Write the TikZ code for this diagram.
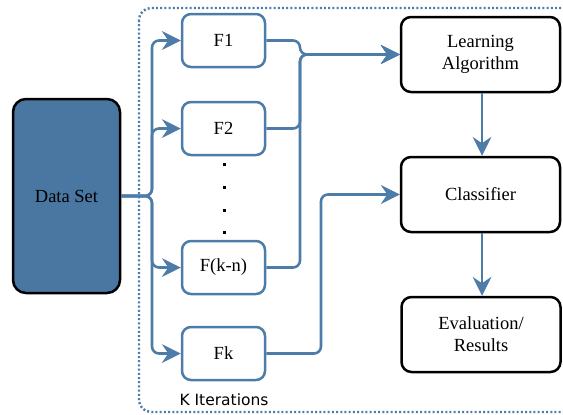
\documentclass[tikz,border=0pt]{standalone}
\usepackage{fontspec}
\setmainfont{Liberation Serif}
\newfontfamily\labelsans{DejaVu Sans}
\usetikzlibrary{arrows.meta,positioning}

\definecolor{flowblue}{HTML}{4D7CA8}
\definecolor{datafill}{HTML}{4A77A2}

\tikzset{
  flowtip/.tip={Stealth[length=19pt, width=19pt, inset=6.5pt, line width=0pt]},
  every node/.style={font=\fontsize{18.5}{22}\selectfont},
  fbox/.style={draw=flowblue, line width=2.5pt, rounded corners=9pt, fill=white,
               minimum width=83pt, minimum height=53pt, inner sep=0pt},
  bbox/.style={draw=black, line width=2.5pt, rounded corners=10pt, fill=white,
               minimum width=159pt, minimum height=75pt, inner sep=0pt, align=center},
  dbox/.style={draw=black, line width=2.5pt, rounded corners=13pt, fill=datafill,
               minimum width=107pt, minimum height=194pt, inner sep=0pt},
  flow/.style={draw=flowblue, line width=2.6pt, rounded corners=7pt, arrows={-flowtip}},
  frame/.style={draw=flowblue, line width=2.4pt, dash pattern=on 2pt off 2.2pt,
                rounded corners=12pt}
}

\begin{document}
\begin{tikzpicture}[x=1pt, y=-1pt]
  \useasboundingbox (0,0) rectangle (563,415);

  % dotted frame of the K iterations, running off the right edge
  \begin{scope}
    \clip (0,0) rectangle (563,415);
    \draw[frame] (139,8) rectangle (590,412);
  \end{scope}

  % boxes
  \node[dbox] (ds) at (66.5,196) {Data Set};

  \node[fbox] (f1)  at (223.5,40.5)  {F1};
  \node[fbox] (f2)  at (223.5,128.5) {F2};
  \node[fbox] (fkn) at (223.5,267.5) {F(k-n)};
  \node[fbox] (fk)  at (223.5,353.5) {Fk};

  \node[bbox] (la) at (480.5,54.5)  {Learning\\Algorithm};
  \node[bbox] (cl) at (480.5,194.5) {Classifier};
  \node[bbox] (ev) at (481,334.5)   {Evaluation/\\Results};

  % vertical ellipsis between F2 and F(k-n)
  \foreach \y in {164,187,210,232}
    \fill (222.5,\y-1.5) rectangle ++(3,3);

  \node[font=\labelsans\fontsize{15.5}{18}\selectfont] (kit) at (224,400) {K Iterations};

  % routing points
  \coordinate (split)  at (152,196);
  \coordinate (mergeA) at (300,54.5);
  \coordinate (mergeC) at (321,194.5);

  % data set fanned out to the feature sets
  \draw[flow] (ds.east) -- (split) |- (f1.west);
  \draw[flow] (ds.east) -- (split) |- (f2.west);
  \draw[flow] (ds.east) -- (split) |- (fkn.west);
  \draw[flow] (ds.east) -- (split) |- (fk.west);

  % training sets into the learning algorithm
  \draw[flow] (f1.east)  -| (mergeA) -- (la.west);
  \draw[flow] (f2.east)  -| (mergeA) -- (la.west);
  \draw[flow] (fkn.east) -| (mergeA) -- (la.west);

  % held-out set into the classifier
  \draw[flow] (fk.east) -| (mergeC) -- (cl.west);

  \draw[flow] ([xshift=1.5pt]la.south) -- ([xshift=1.5pt]cl.north);
  \draw[flow] ([xshift=1.5pt]cl.south) -- ([xshift=1pt]ev.north);
\end{tikzpicture}
\end{document}
